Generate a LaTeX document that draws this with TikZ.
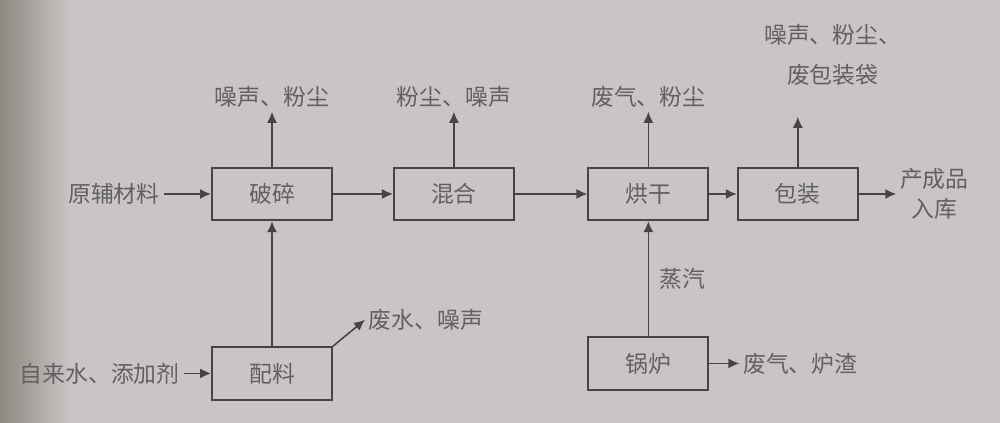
\documentclass[tikz,border=0pt]{standalone}
\usepackage{fontspec}
\newfontfamily\cjk{Noto Sans CJK SC}
\usepackage{tikz}
\usepackage{xcolor}
\usetikzlibrary{arrows.meta}
\usetikzlibrary{positioning}

\definecolor{paper}{RGB}{201,196,197}
\definecolor{paperedge}{RGB}{140,138,128}
\definecolor{ink}{RGB}{70,68,70}

\tikzset{
    proc/.style={draw=ink, line width=1.1pt, minimum width=2.4cm, minimum height=1.05cm,
                 font=\cjk\fontsize{13}{16}\selectfont, text=ink!85},
    lab/.style={font=\cjk\fontsize{13}{17}\selectfont, text=ink!85, align=center, inner sep=2pt},
    flow/.style={draw=ink, line width=0.9pt, -{Latex[length=2.2mm, width=2mm]}},
}

\begin{document}
\begin{tikzpicture}
    % paper
    \useasboundingbox (0,0) rectangle (20,8.46);
    \fill[paper] (0,0) rectangle (20,8.46);
    \shade[left color=paperedge, right color=paper] (0,0) rectangle (1.4,8.46);

    % main line
    \node[proc] (crush) at (5.44,4.58) {破碎};
    \node[proc, right=1.2cm of crush] (mix) {混合};
    \node[proc, right=1.45cm of mix] (dry) {烘干};
    \node[proc, right=0.55cm of dry] (pack) {包装};
    \node[lab, left=0.95cm of crush] (raw) {原辅材料};
    \node[lab, right=0.75cm of pack] (prod) {产成品\\入库};

    % side branches
    \node[proc, below=2.5cm of crush] (dose) {配料};
    \node[lab, left=0.55cm of dose] (water) {自来水、添加剂};
    \node[lab, above right=0.24cm and 0.64cm of dose.north east] (wasteA) {废水、噪声};
    \node[proc, below=2.3cm of dry] (boiler) {锅炉};
    \node[lab, right=0.6cm of boiler] (wasteB) {废气、炉渣};

    % emissions above
    \node[lab, above=1.1cm of crush] (emA) {噪声、粉尘};
    \node[lab, above=1.1cm of mix] (emB) {粉尘、噪声};
    \node[lab, above=1.1cm of dry] (emC) {废气、粉尘};
    \node[lab, font=\cjk\fontsize{13}{23}\selectfont, above=1.55cm of pack, xshift=0.7cm] (emD) {噪声、粉尘、\\废包装袋};

    % arrows
    \draw[flow] (raw) -- (crush);
    \draw[flow] (crush) -- (mix);
    \draw[flow] (mix) -- (dry);
    \draw[flow] (dry) -- (pack);
    \draw[flow] (pack) -- (prod);
    \draw[flow] (water) -- (dose);
    \draw[flow] (dose) -- (crush);
    \draw[flow] (dose.north east) -- (wasteA.west);
    \draw[flow] (boiler) -- node[lab, right=4pt] {蒸汽} (dry);
    \draw[flow] (boiler) -- (wasteB);
    \draw[flow] (crush) -- (emA);
    \draw[flow] (mix) -- (emB);
    \draw[flow] (dry) -- (emC);
    \draw[flow, shorten >=0.55cm] (pack.north) -- (pack.north |- emD.south);
\end{tikzpicture}
\end{document}
